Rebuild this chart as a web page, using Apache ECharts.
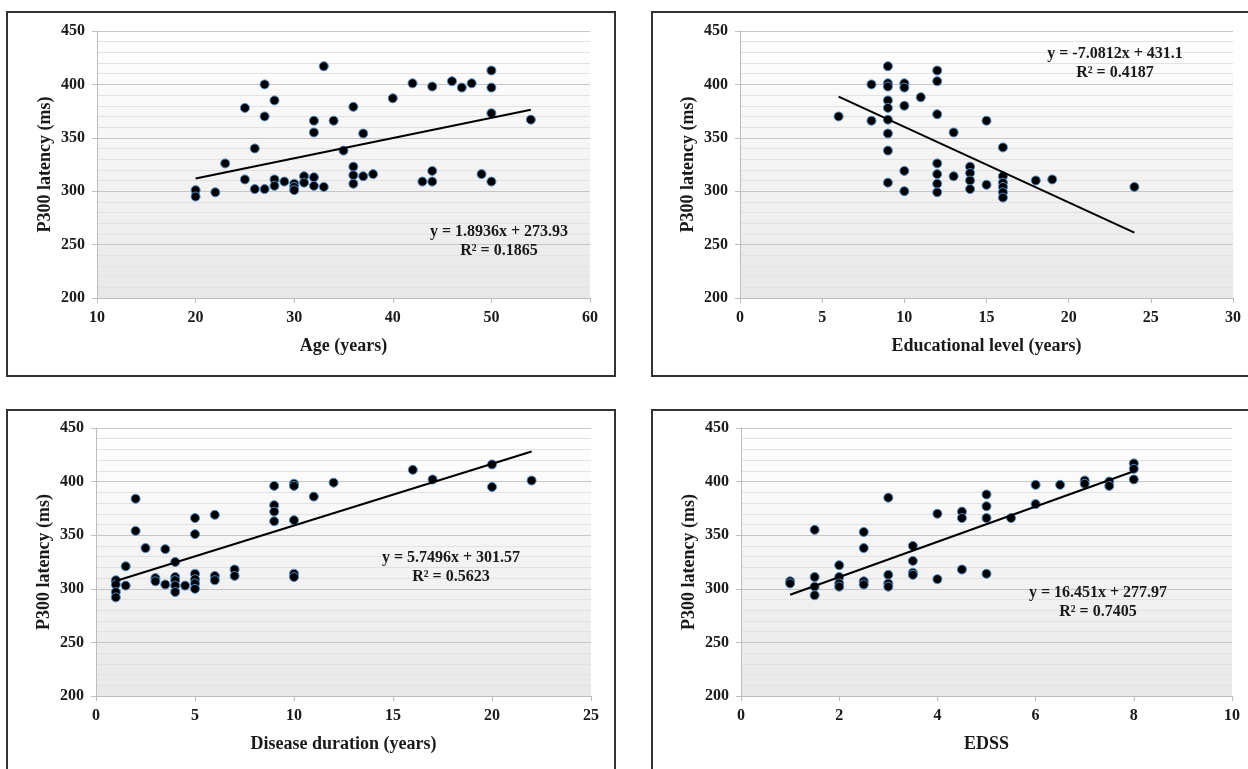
<!DOCTYPE html>
<html>
<head>
<meta charset="utf-8">
<script src="https://cdn.jsdelivr.net/npm/echarts@6/dist/echarts.min.js"></script>
<style>
  html, body { margin: 0; padding: 0; background: #fff; }
  #chart { width: 1248px; height: 769px; }
</style>
</head>
<body>
<div id="chart"></div>
<script>
const chart = echarts.init(document.getElementById("chart"));

// [x, P300 latency] pairs
const ageData = [
  [20, 301], [20, 295], [22, 299], [23, 326], [25, 378], [25, 311], [26, 340], [26, 302],
  [27, 400], [27, 370], [27, 302], [28, 385], [28, 311], [28, 305], [29, 309], [30, 307],
  [30, 304], [30, 301], [31, 314], [31, 308], [32, 366], [32, 355], [32, 313], [32, 305],
  [33, 417], [33, 304], [34, 366], [35, 338], [36, 379], [36, 323], [36, 315], [36, 307],
  [37, 354], [37, 314], [38, 316], [40, 387], [42, 401], [43, 309], [44, 398], [44, 319],
  [44, 309], [46, 403], [47, 397], [48, 401], [49, 316], [50, 413], [50, 397], [50, 373],
  [50, 309], [54, 367]
];
const eduData = [
  [6, 370], [8, 400], [8, 366], [9, 417], [9, 401], [9, 398], [9, 385], [9, 378], [9, 367],
  [9, 354], [9, 338], [9, 308], [10, 401], [10, 397], [10, 380], [10, 319], [10, 300],
  [11, 388], [12, 413], [12, 403], [12, 372], [12, 326], [12, 316], [12, 307], [12, 299],
  [13, 355], [13, 314], [14, 323], [14, 317], [14, 310], [14, 302], [15, 366], [15, 306],
  [16, 341], [16, 314], [16, 308], [16, 304], [16, 299], [16, 294], [18, 310], [19, 311],
  [24, 304]
];
const durData = [
  [1, 308], [1, 304], [1, 297], [1, 292], [1.5, 321], [1.5, 303], [2, 384], [2, 354],
  [2.5, 338], [3, 310], [3, 307], [3.5, 337], [3.5, 304], [4, 325], [4, 311], [4, 308],
  [4, 303], [4, 297], [4.5, 303], [5, 366], [5, 351], [5, 314], [5, 309], [5, 305], [5, 300],
  [6, 369], [6, 312], [6, 308], [7, 318], [7, 312], [9, 396], [9, 378], [9, 372], [9, 363],
  [10, 398], [10, 396], [10, 364], [10, 314], [10, 311], [11, 386], [12, 399], [16, 411],
  [17, 402], [20, 416], [20, 395], [22, 401]
];
const edssData = [
  [1, 307], [1, 305], [1.5, 355], [1.5, 311], [1.5, 302], [1.5, 294], [2, 322], [2, 311],
  [2, 305], [2, 302], [2.5, 353], [2.5, 338], [2.5, 307], [2.5, 304], [3, 385], [3, 313],
  [3, 305], [3, 302], [3.5, 340], [3.5, 326], [3.5, 315], [3.5, 313], [4, 370], [4, 309],
  [4.5, 372], [4.5, 366], [4.5, 318], [5, 388], [5, 377], [5, 366], [5, 314], [5.5, 366],
  [6, 397], [6, 379], [6.5, 397], [7, 401], [7, 398], [7.5, 400], [7.5, 396], [8, 417],
  [8, 412], [8, 402]
];

// linear trend line endpoints
const ageTrend = [[20, 311.8], [54, 376.2]];
const eduTrend = [[6, 388.6], [24, 261.2]];
const durTrend = [[1, 307.3], [22, 428.1]];
const edssTrend = [[1, 294.4], [8, 409.6]];

const xTitles = ["Age (years)", "Educational level (years)", "Disease duration (years)", "EDSS"];
const xMins = [10, 0, 0, 0];
const xMaxs = [60, 30, 25, 10];
const xSteps = [10, 5, 5, 2];
const equations = [
  ["y = 1.8936x + 273.93", "R² = 0.1865"],
  ["y = -7.0812x + 431.1", "R² = 0.4187"],
  ["y = 5.7496x + 301.57", "R² = 0.5623"],
  ["y = 16.451x + 277.97", "R² = 0.7405"]
];

const FONT = "Liberation Serif";
const grids = [
  { left: 97, right: 658, top: 31, bottom: 471 },
  { left: 740, right: 15, top: 31, bottom: 471 },
  { left: 96, right: 657, top: 428, bottom: 73 },
  { left: 741, right: 16, top: 428, bottom: 73 }
];
const boxes = [
  { x: 7, y: 12, width: 608, height: 364 },
  { x: 652, y: 12, width: 610, height: 364 },
  { x: 7, y: 410, width: 608, height: 400 },
  { x: 652, y: 410, width: 610, height: 400 }
];
const eqPos = [[499, 232, 251], [1115, 54, 73], [451, 558, 577], [1098, 593, 612]];

const scatterSets = [ageData, eduData, durData, edssData];
const trendSets = [ageTrend, eduTrend, durTrend, edssTrend];

const labelStyle = { fontFamily: FONT, fontWeight: "bold", fontSize: 16, color: "#1a1a1a" };

const option = {
  backgroundColor: "#fff",
  animation: false,
  grid: grids.map(g => Object.assign({
    show: true,
    borderWidth: 0,
    backgroundColor: new echarts.graphic.LinearGradient(0, 0, 0, 1, [
      { offset: 0, color: "#ffffff" },
      { offset: 1, color: "#e8e8e8" }
    ])
  }, g)),
  xAxis: grids.map((g, i) => ({
    type: "value",
    gridIndex: i,
    min: xMins[i],
    max: xMaxs[i],
    interval: xSteps[i],
    name: xTitles[i],
    nameLocation: "middle",
    nameGap: 39,
    nameTextStyle: { fontFamily: FONT, fontWeight: "bold", fontSize: 18, color: "#1a1a1a" },
    axisLine: { show: true, onZero: false, lineStyle: { color: "#bdbdbd" } },
    axisTick: { show: true, length: 5, lineStyle: { color: "#bdbdbd" } },
    axisLabel: Object.assign({ margin: 12 }, labelStyle),
    splitLine: { show: false }
  })),
  yAxis: grids.map((g, i) => ({
    type: "value",
    gridIndex: i,
    min: 200,
    max: 450,
    interval: 50,
    name: "P300 latency (ms)",
    nameLocation: "middle",
    nameGap: 43,
    nameTextStyle: { fontFamily: FONT, fontWeight: "bold", fontSize: 18, color: "#1a1a1a" },
    axisLine: { show: true, lineStyle: { color: "#bdbdbd" } },
    axisTick: { show: true, length: 5, lineStyle: { color: "#bdbdbd" } },
    axisLabel: Object.assign({ margin: 12 }, labelStyle),
    splitLine: { show: true, lineStyle: { color: "#c6c6c6", width: 1 } },
    minorTick: { show: false, splitNumber: 5 },
    minorSplitLine: { show: true, lineStyle: { color: "#e2e2e2", width: 1 } }
  })),
  series: [],
  graphic: []
};

scatterSets.forEach((d, i) => {
  option.series.push({
    type: "scatter",
    xAxisIndex: i,
    yAxisIndex: i,
    data: d,
    symbolSize: 9,
    itemStyle: { color: "#000", borderColor: "#4f8cc9", borderWidth: 1, opacity: 1 },
    z: 3
  });
  option.series.push({
    type: "line",
    xAxisIndex: i,
    yAxisIndex: i,
    data: trendSets[i],
    showSymbol: false,
    lineStyle: { color: "#000", width: 2 },
    z: 4
  });
});

boxes.forEach(b => {
  option.graphic.push({
    type: "rect",
    shape: b,
    style: { fill: null, stroke: "#333", lineWidth: 2 },
    silent: true
  });
});

equations.forEach((lines, i) => {
  const [cx, y1, y2] = eqPos[i];
  [y1, y2].forEach((y, k) => {
    option.graphic.push({
      type: "text",
      x: cx,
      y: y,
      z: 10,
      style: {
        text: lines[k],
        fontFamily: FONT,
        fontWeight: "bold",
        fontSize: 16,
        fill: "#1a1a1a",
        align: "center",
        verticalAlign: "middle"
      }
    });
  });
});

chart.setOption(option);
</script>
</body>
</html>
